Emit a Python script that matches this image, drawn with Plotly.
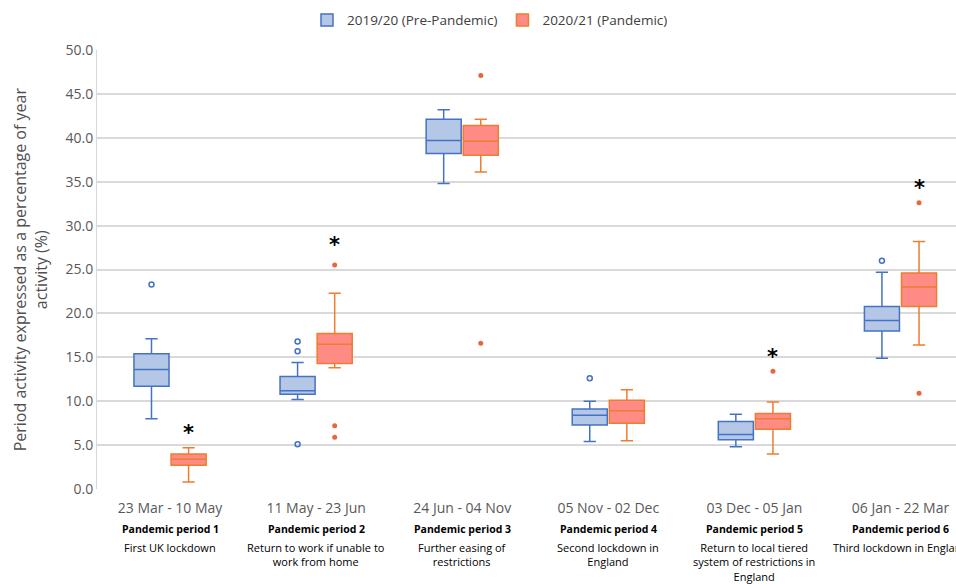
import plotly.graph_objects as go

periods = ["23 Mar - 10 May", "11 May - 23 Jun", "24 Jun - 04 Nov",
           "05 Nov - 02 Dec", "03 Dec - 05 Jan", "06 Jan - 22 Mar"]
period_names = ["Pandemic period 1", "Pandemic period 2", "Pandemic period 3",
                "Pandemic period 4", "Pandemic period 5", "Pandemic period 6"]
period_desc = ["First UK lockdown",
               "Return to work if unable to<br>work from home",
               "Further easing of<br>restrictions",
               "Second lockdown in<br>England",
               "Return to local tiered<br>system of restrictions in<br>England",
               "Third lockdown in England"]

# 2019/20 (Pre-Pandemic)
pre_lower = [8.0, 10.2, 34.8, 5.4, 4.8, 14.9]
pre_q1 = [11.7, 10.8, 38.2, 7.3, 5.6, 18.0]
pre_median = [13.6, 11.2, 39.7, 8.4, 6.2, 19.2]
pre_q3 = [15.4, 12.8, 42.1, 9.1, 7.7, 20.8]
pre_upper = [17.1, 14.4, 43.2, 10.0, 8.5, 24.7]
pre_outliers = [[23.3], [16.8, 15.7, 5.1], [], [12.6], [], [26.0]]

# 2020/21 (Pandemic)
pan_lower = [0.8, 13.8, 36.1, 5.5, 4.0, 16.4]
pan_q1 = [2.7, 14.3, 38.0, 7.5, 6.8, 20.8]
pan_median = [3.4, 16.5, 39.6, 8.9, 8.0, 23.0]
pan_q3 = [4.0, 17.7, 41.4, 10.1, 8.6, 24.6]
pan_upper = [4.7, 22.3, 42.1, 11.3, 9.9, 28.2]
pan_outliers = [[], [25.5, 7.2, 5.9], [47.1, 16.6], [], [13.4], [32.6, 10.9]]

# significance markers (period index, y)
sig_idx = [0, 1, 4, 5]
sig_y = [6.4, 27.8, 15.0, 34.3]

yticks = [0, 5, 10, 15, 20, 25, 30, 35, 40, 45, 50]

BLUE_LINE = "#4472c4"
BLUE_FILL = "#b4c7e7"
RED_LINE = "#ed7d31"
RED_FILL = "#ff8b85"
OFF = 0.127
W = 0.24

fig = go.Figure()
idx = list(range(len(periods)))

fig.add_trace(go.Box(
    x=[i - OFF for i in idx], q1=pre_q1, median=pre_median, q3=pre_q3,
    lowerfence=pre_lower, upperfence=pre_upper, width=W,
    name="2019/20 (Pre-Pandemic)", fillcolor=BLUE_FILL,
    line=dict(color=BLUE_LINE, width=1.5), whiskerwidth=0.35,
    boxpoints=False, hoverinfo="skip"))
fig.add_trace(go.Box(
    x=[i + OFF for i in idx], q1=pan_q1, median=pan_median, q3=pan_q3,
    lowerfence=pan_lower, upperfence=pan_upper, width=W,
    name="2020/21 (Pandemic)", fillcolor=RED_FILL,
    line=dict(color=RED_LINE, width=1.5), whiskerwidth=0.35,
    boxpoints=False, hoverinfo="skip"))

ox, oy = [], []
for i, vals in enumerate(pre_outliers):
    for v in vals:
        ox.append(i - OFF); oy.append(v)
fig.add_trace(go.Scatter(x=ox, y=oy, mode="markers", showlegend=False,
                         marker=dict(symbol="circle-open", size=5,
                                     color=BLUE_LINE, line=dict(width=1.5))))
rx, ry = [], []
for i, vals in enumerate(pan_outliers):
    for v in vals:
        rx.append(i + OFF); ry.append(v)
fig.add_trace(go.Scatter(x=rx, y=ry, mode="markers", showlegend=False,
                         marker=dict(symbol="circle", size=5, color="#e8663a")))

annotations = []
for i, y in zip(sig_idx, sig_y):
    annotations.append(dict(x=i + OFF, y=y, xref="x", yref="y", text="<b>*</b>",
                            showarrow=False,
                            font=dict(size=21, color="#000000", family="DejaVu Sans")))
for i in idx:
    annotations.append(dict(x=i, y=-0.0695, xref="x", yref="paper",
                            text="<b>" + period_names[i] + "</b>", showarrow=False,
                            yanchor="top", font=dict(size=10.5, color="#000000")))
    annotations.append(dict(x=i, y=-0.112, xref="x", yref="paper",
                            text=period_desc[i], showarrow=False, yanchor="top",
                            font=dict(size=11, color="#000000")))
annotations.append(dict(x=-0.077, y=0.5, xref="paper", yref="paper",
                        text="Period activity expressed as a percentage of year<br>activity (%)",
                        textangle=-90, showarrow=False, xanchor="center", yanchor="middle",
                        font=dict(size=16, color="#505050")))

fig.update_layout(
    width=956, height=584,
    margin=dict(l=97, r=0, t=50, b=95, autoexpand=False),
    paper_bgcolor="white", plot_bgcolor="white",
    font=dict(family="Open Sans", color="#595959"),
    showlegend=True,
    legend=dict(orientation="h", x=0.4575, xanchor="center", y=1.068, yanchor="middle",
                font=dict(size=13.5, color="#404040")),
    annotations=annotations,
)
fig.update_xaxes(range=[-0.5, 5.38], tickmode="array", tickvals=idx,
                 ticktext=periods, showgrid=False, zeroline=False, automargin=False,
                 tickfont=dict(size=14, color="#595959"), ticks="", ticklen=0,
                 ticklabelstandoff=9)
fig.update_yaxes(range=[0, 50], tickmode="array", tickvals=yticks,
                 ticktext=[f"{v:.1f}" for v in yticks], automargin=False,
                 showgrid=True, gridcolor="#d9d9d9", gridwidth=1.5,
                 zeroline=False, showline=True, linecolor="#d9d9d9",
                 tickfont=dict(size=14, color="#595959"))

fig.write_html("out.html", config={"displayModeBar": False},
               post_script="document.body.style.margin='0';document.body.style.overflow='hidden';")
